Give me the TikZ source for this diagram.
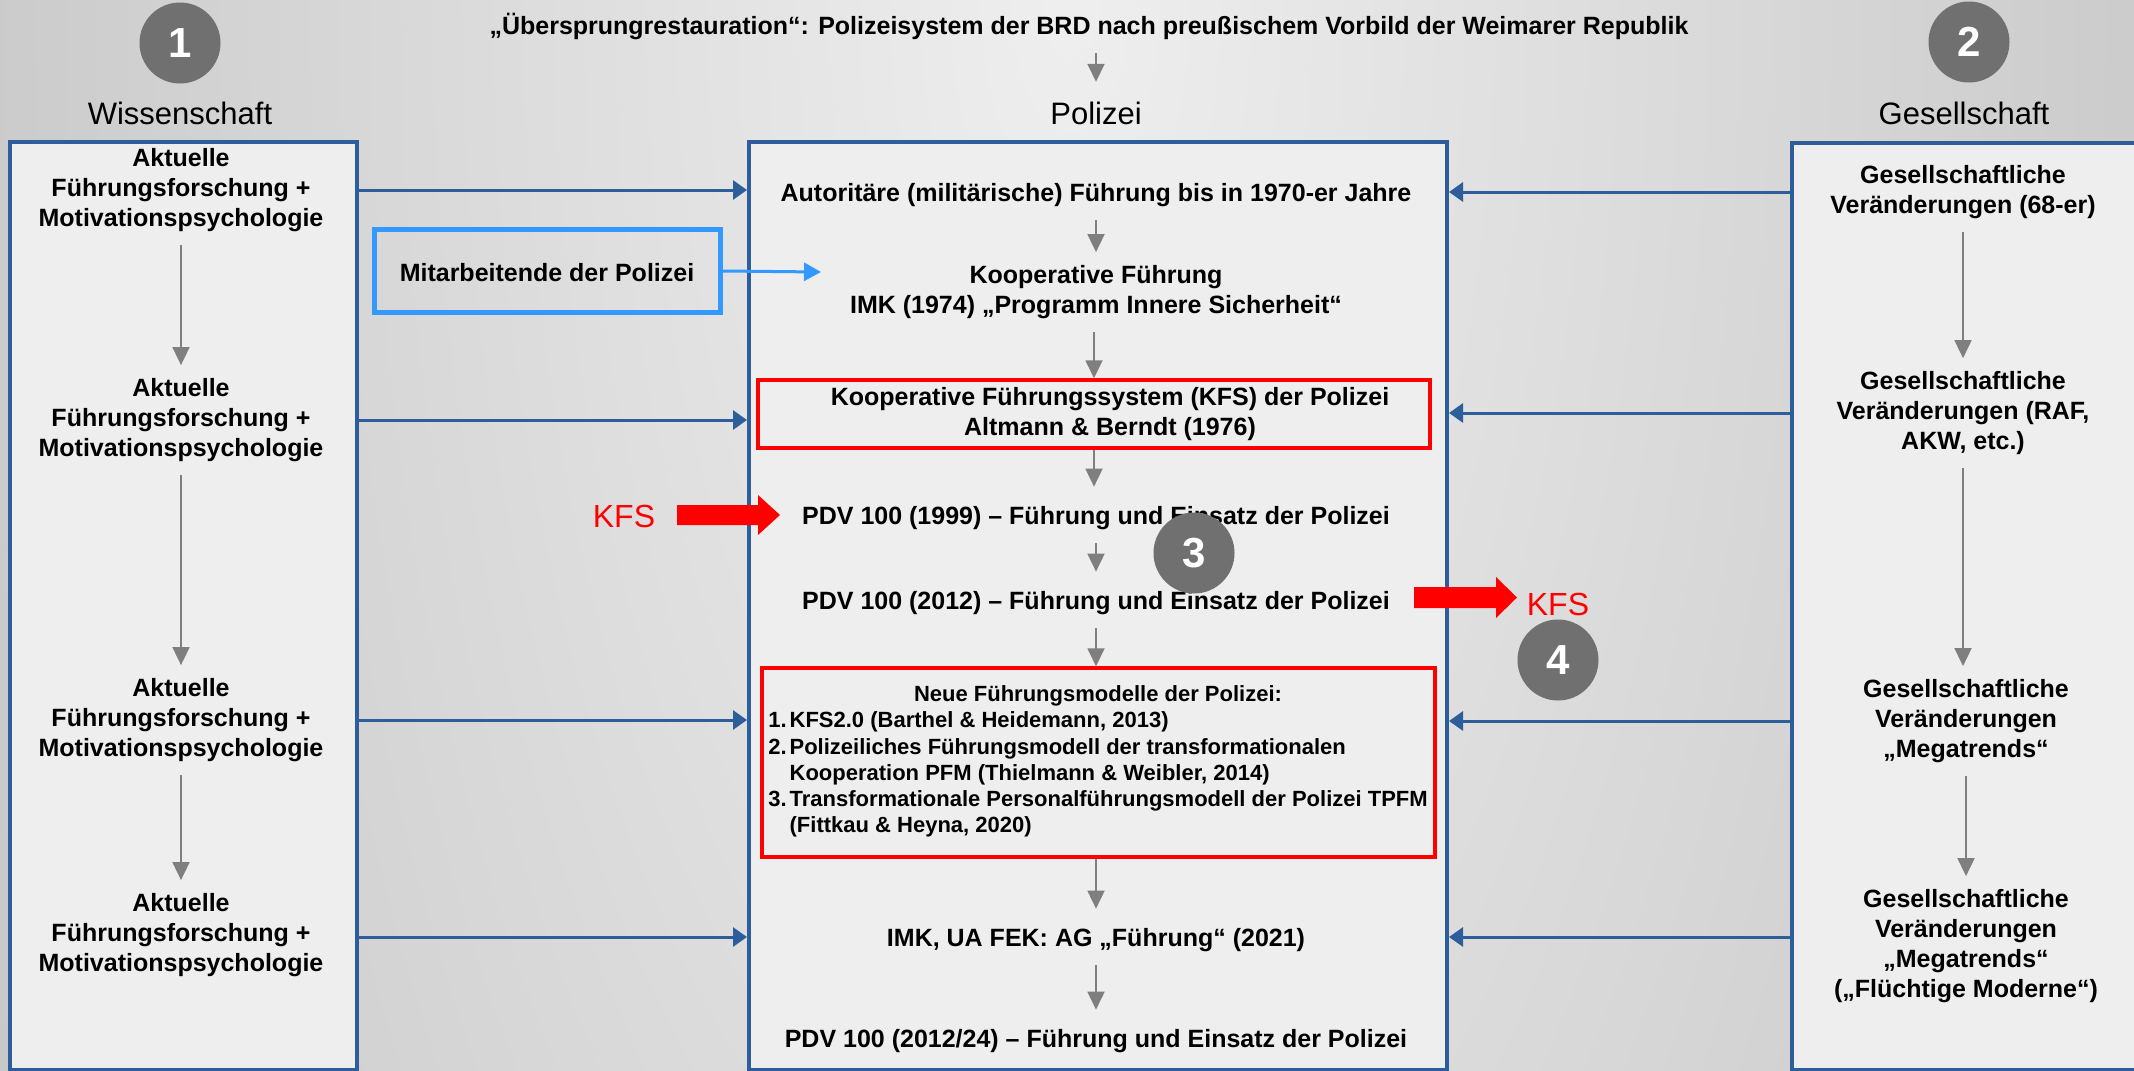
\documentclass[tikz,border=0pt]{standalone}
\usepackage{fontspec}
\setmainfont{Liberation Sans}
\usetikzlibrary{arrows.meta}
\definecolor{boxblue}{HTML}{2E5D9C}
\definecolor{lightblue}{HTML}{3399FF}
\definecolor{arrgray}{HTML}{7F7F7F}
\definecolor{circgray}{HTML}{707070}
\definecolor{boxfill}{HTML}{EEEEEE}
\definecolor{bgin}{gray}{0.935}
\definecolor{bgmid}{gray}{0.66}
\definecolor{bgout}{gray}{0.60}
\definecolor{kfsred}{HTML}{FF0000}
\pgfdeclareradialshading{bgrad}{\pgfpointorigin}{color(0bp)=(bgin); color(41.67bp)=(bgmid); color(50bp)=(bgout)}
\newcommand\wstrut{\rule[-5pt]{0pt}{30pt}}
\newcommand\lstrut{\rule[-6.8pt]{0pt}{36pt}}
\begin{document}
\begin{tikzpicture}[x=1pt,y=-1pt,
  wtext/.style={font=\fontsize{25}{30}\selectfont\bfseries, align=center, inner xsep=2pt, inner ysep=13pt,
    execute at begin node=\wstrut, execute at end node=\wstrut},
  collabel/.style={font=\fontsize{31}{36}\selectfont, inner xsep=2pt, inner ysep=13pt,
    execute at begin node=\lstrut, execute at end node=\lstrut},
  bigbox/.style={draw=boxblue, line width=4pt, fill=boxfill, inner sep=0pt, anchor=north west},
  grayarr/.style={draw=arrgray, line width=1.8pt, -{Triangle[length=18pt,width=17pt]}},
  bluearr/.style={draw=boxblue, line width=3pt, -{Triangle[length=14pt,width=19pt]}},
  lbarr/.style={draw=lightblue, line width=3pt, -{Triangle[length=17pt,width=18pt]}},
  redframe/.style={draw=kfsred, line width=3.5pt, inner sep=0pt},
  redtext/.style={font=\fontsize{25}{30}\selectfont\bfseries, align=center, inner sep=0pt,
    execute at begin node=\wstrut, execute at end node=\wstrut},
  listtext/.style={font=\fontsize{22}{26.25}\selectfont\bfseries, inner sep=0pt},
  numcirc/.style={circle, fill=circgray, minimum size=81pt, inner sep=0pt, text=white,
    font=\fontsize{42}{48}\selectfont\bfseries},
  kfslabel/.style={text=kfsred, font=\fontsize{32}{38}\selectfont, inner sep=0pt},
  mitbox/.style={draw=lightblue, line width=5pt, minimum width=346pt, minimum height=83pt,
    font=\fontsize{25}{30}\selectfont\bfseries, inner sep=0pt},
  blockarr/.style={fill=kfsred}
]
\useasboundingbox (0,0) rectangle (2134,1071);
% background
\begin{scope}
  \clip (0,0) rectangle (2134,1071);
  \fill[bgout] (0,0) rectangle (2134,1071);
  \shade[shading=bgrad] (1070,0) ellipse [x radius=1284pt, y radius=2876pt];
\end{scope}

% big column boxes
\node[bigbox, minimum width=347pt, minimum height=928pt] (lbox) at (8,140) {};
\node[bigbox, minimum width=698pt, minimum height=928pt] (mbox) at (747,140) {};
\node[bigbox, minimum width=370pt, minimum height=927pt] (rbox) at (1790,141) {};

% headings
\node[wtext] (title) at (1089,25) {„Übersprungrestauration“: Polizeisystem der BRD nach preußischem Vorbild der Weimarer Republik};
\node[collabel] (lw) at (180,113) {Wissenschaft};
\node[collabel] (lp) at (1096,113) {Polizei};
\node[collabel] (lg) at (1964,113) {Gesellschaft};

% left column
\node[wtext] (w1) at (181,190) {Aktuelle\\Führungsforschung +\\Motivationspsychologie};
\node[wtext] (w2) at (181,420) {Aktuelle\\Führungsforschung +\\Motivationspsychologie};
\node[wtext] (w3) at (181,720) {Aktuelle\\Führungsforschung +\\Motivationspsychologie};
\node[wtext] (w4) at (181,935) {Aktuelle\\Führungsforschung +\\Motivationspsychologie};

% right column
\node[wtext] (g1) at (1963,192) {Gesellschaftliche\\Veränderungen (68-er)};
\node[wtext] (g2) at (1963,413) {Gesellschaftliche\\Veränderungen (RAF,\\AKW, etc.)};
\node[wtext] (g3) at (1966,721) {Gesellschaftliche\\Veränderungen\\„Megatrends“};
\node[wtext] (g4) at (1966,946) {Gesellschaftliche\\Veränderungen\\„Megatrends“\\(„Flüchtige Moderne“)};

% middle column
\node[wtext] (m1) at (1096,192) {Autoritäre (militärische) Führung bis in 1970-er Jahre};
\node[wtext] (m2) at (1096,292) {Kooperative Führung\\IMK (1974) „Programm Innere Sicherheit“};
\node[redframe, minimum width=672pt, minimum height=68pt] (r1) at (1094,414) {};
\node[redtext] (r1t) at (1110,414) {Kooperative Führungssystem (KFS) der Polizei\\Altmann \& Berndt (1976)};
\node[wtext] (p1) at (1096,515) {PDV 100 (1999) – Führung und Einsatz der Polizei};
\node[wtext] (p2) at (1096,600) {PDV 100 (2012) – Führung und Einsatz der Polizei};
\node[redframe, minimum width=673pt, minimum height=189pt] (r2) at (1098.5,762.5) {};
\node[listtext] (r2t) at (1098,762) {\begin{tabular}{@{}l@{\hspace{3pt}}l@{}}
\multicolumn{2}{@{}c@{}}{Neue Führungsmodelle der Polizei:}\\
1. & KFS2.0 (Barthel \& Heidemann, 2013)\\
2. & Polizeiliches Führungsmodell der transformationalen\\
   & Kooperation PFM (Thielmann \& Weibler, 2014)\\
3. & Transformationale Personalführungsmodell der Polizei TPFM\\
   & (Fittkau \& Heyna, 2020)
\end{tabular}};
\node[wtext] (imk) at (1096,937) {IMK, UA FEK: AG „Führung“ (2021)};
\node[wtext] (p3) at (1096,1038) {PDV 100 (2012/24) – Führung und Einsatz der Polizei};

% Mitarbeitende
\node[mitbox] (mit) at (547,271) {\wstrut Mitarbeitende der Polizei};
\coordinate (mitend) at (821,272);

% gray flow arrows
\draw[grayarr] (title.south -| lp.north) -- (lp.north);
\draw[grayarr] (w1.south) -- (w2.north);
\draw[grayarr] (w2.south) -- (w3.north);
\draw[grayarr] (w3.south) -- (w4.north);
\draw[grayarr] (g1.south) -- (g1.south |- g2.north);
\draw[grayarr] (g2.south) -- (g2.south |- g3.north);
\draw[grayarr] (g3.south) -- (g4.north);
\draw[grayarr] (m1.south) -- (m2.north);
\draw[grayarr] (m2.south -| r1.north) -- (r1.north);
\draw[grayarr] (r1.south) -- (r1.south |- p1.north);
\draw[grayarr] (p1.south) -- (p2.north);
\draw[grayarr] (p2.south) -- (p2.south |- r2.north);
\draw[grayarr] (r2.south -| imk.north) -- (imk.north);
\draw[grayarr] (imk.south) -- (p3.north);

% blue influence arrows
\draw[bluearr] (lbox.east |- w1) -- (mbox.west |- w1);
\draw[bluearr] (lbox.east |- w2) -- (mbox.west |- w2);
\draw[bluearr] (lbox.east |- w3) -- (mbox.west |- w3);
\draw[bluearr] (lbox.east |- imk) -- (mbox.west |- imk);
\draw[bluearr] (rbox.west |- g1) -- (mbox.east |- g1);
\draw[bluearr] (rbox.west |- g2) -- (mbox.east |- g2);
\draw[bluearr] (rbox.west |- g3) -- (mbox.east |- g3);
\draw[bluearr] (rbox.west |- imk) -- (mbox.east |- imk);

\draw[lbarr] (mit.east) -- (mitend);

% KFS
\node[kfslabel] (k1) at (624,516) {KFS};
\node[kfslabel] (k2) at (1558,604) {KFS};
\fill[blockarr] (677,505) -- (758,505) -- (758,495) -- (780,515) -- (758,535) -- (758,525) -- (677,525) -- cycle;
\fill[blockarr] (1414,587) -- (1496,587) -- (1496,577) -- (1517,597.5) -- (1496,618) -- (1496,608) -- (1414,608) -- cycle;

% numbered circles
\node[numcirc] (c1) at (180,43) {1};
\node[numcirc] (c2) at (1969,42) {2};
\node[numcirc] (c3) at (1194,553) {3};
\node[numcirc] (c4) at (1558,660) {4};
\end{tikzpicture}
\end{document}
